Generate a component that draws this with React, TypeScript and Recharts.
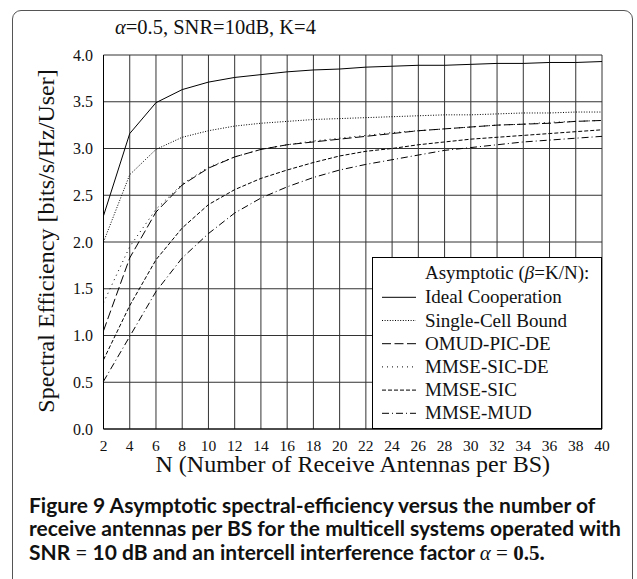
import React from 'react';
import { LineChart, Line, XAxis, YAxis, CartesianGrid, Legend, Label } from 'recharts';

const antennas = [2, 4, 6, 8, 10, 12, 14, 16, 18, 20, 22, 24, 26, 28, 30, 32, 34, 36, 38, 40];
const idealCooperation = [2.28, 3.16, 3.49, 3.63, 3.71, 3.76, 3.79, 3.82, 3.84, 3.85, 3.87, 3.88, 3.89, 3.89, 3.9, 3.91, 3.91, 3.92, 3.92, 3.93];
const singleCellBound = [2.0, 2.72, 2.99, 3.12, 3.19, 3.24, 3.27, 3.29, 3.31, 3.32, 3.33, 3.34, 3.35, 3.36, 3.36, 3.37, 3.38, 3.38, 3.39, 3.39];
const omudPicDe = [1.05, 1.83, 2.32, 2.61, 2.79, 2.91, 2.99, 3.04, 3.07, 3.1, 3.13, 3.16, 3.19, 3.21, 3.23, 3.25, 3.26, 3.27, 3.29, 3.3];
const mmseSicDe = [1.35, 1.95, 2.35, 2.62, 2.8, 2.91, 2.99, 3.04, 3.08, 3.11, 3.14, 3.17, 3.19, 3.21, 3.23, 3.25, 3.26, 3.28, 3.29, 3.3];
const mmseSic = [0.74, 1.32, 1.81, 2.15, 2.4, 2.56, 2.68, 2.77, 2.85, 2.92, 2.97, 3.0, 3.04, 3.07, 3.1, 3.12, 3.14, 3.16, 3.18, 3.2];
const mmseMud = [0.51, 0.99, 1.47, 1.83, 2.09, 2.31, 2.47, 2.59, 2.69, 2.77, 2.83, 2.88, 2.93, 2.98, 3.01, 3.04, 3.07, 3.09, 3.11, 3.13];
const yTicks = [0, 0.5, 1, 1.5, 2, 2.5, 3, 3.5, 4];
const seriesNames = ['Ideal Cooperation', 'Single-Cell Bound', 'OMUD-PIC-DE', 'MMSE-SIC-DE', 'MMSE-SIC', 'MMSE-MUD'];
const seriesKeys = ['ideal', 'single', 'omud', 'sicde', 'sic', 'mud'];
const seriesDash = [undefined, '1 1.6', '9 3.5', '1 4', '4 2', '7 3 1 3'];

const data = antennas.map((n, i) => ({
  n,
  ideal: idealCooperation[i],
  single: singleCellBound[i],
  omud: omudPicDe[i],
  sicde: mmseSicDe[i],
  sic: mmseSic[i],
  mud: mmseMud[i],
}));

const SERIF = '"Liberation Serif", "Times New Roman", serif';
const SANS = 'Lato, "Noto Sans", sans-serif';

function LegendBox() {
  return (
    <div style={{ width: 230, height: 172, boxSizing: 'border-box', border: '1px solid #000', background: '#fff' }}>
      <svg width={228} height={170} style={{ display: 'block' }}>
        <text x={52} y={21} fontFamily={SERIF} fontSize={19} fill="#111">
          Asymptotic (<tspan fontStyle="italic">β</tspan>=K/N):
        </text>
        {seriesNames.map((name, i) => {
          const y = 45.3 + i * 23.2;
          return (
            <g key={name}>
              <line x1={9} x2={43} y1={y - 6} y2={y - 6} stroke="#000" strokeWidth={1} strokeDasharray={seriesDash[i]} />
              <text x={52} y={y} fontFamily={SERIF} fontSize={19} fill="#111">{name}</text>
            </g>
          );
        })}
      </svg>
    </div>
  );
}

const YTitle = (props: any) => {
  const vb = props.viewBox || { x: 43.5, y: 55, width: 60, height: 374 };
  const x = vb.x + 10;
  const y = vb.y + vb.height / 2 - 1;
  return (
    <text x={x} y={y} transform={`rotate(-90, ${x}, ${y})`} textAnchor="middle" fontFamily={SERIF} fontSize={24} fill="#111">
      Spectral Efficiency [bits/s/Hz/User]
    </text>
  );
};

const XTitle = (props: any) => {
  const vb = props.viewBox || { x: 103.5, y: 429, width: 498, height: 50 };
  return (
    <text x={vb.x + vb.width / 2} y={vb.y + 42.5} textAnchor="middle" fontFamily={SERIF} fontSize={24} fill="#111">
      N (Number of Receive Antennas per BS)
    </text>
  );
};

export default function App() {
  return (
    <div style={{ position: 'absolute', left: 0, top: 0, width: 637, height: 579, background: '#fff', overflow: 'hidden' }}>
      <div style={{ position: 'absolute', left: 12, top: 10, width: 621, height: 620, border: '1px solid #555', borderRadius: 9, boxSizing: 'border-box' }} />
      <div style={{ position: 'absolute', left: 0, top: 0 }}>
        <LineChart width={637} height={480} data={data} margin={{ top: 55, right: 35, bottom: 1, left: 43.5 }}>
          <CartesianGrid stroke="#333" strokeWidth={1} />
          <XAxis
            dataKey="n"
            type="number"
            domain={[2, 40]}
            ticks={antennas}
            interval={0}
            height={50}
            axisLine={{ stroke: '#000' }}
            tickLine={false}
            tickSize={6}
            tickMargin={5}
            tick={{ fill: '#111', fontSize: 15.5, fontFamily: SERIF }}
          >
            <Label content={XTitle} />
          </XAxis>
          <YAxis
            type="number"
            domain={[0, 4]}
            ticks={yTicks}
            interval={0}
            width={60}
            tickFormatter={(v: number) => v.toFixed(1)}
            axisLine={{ stroke: '#000' }}
            tickLine={false}
            tickSize={6}
            tickMargin={4.5}
            tick={{ fill: '#111', fontSize: 16, fontFamily: SERIF }}
          >
            <Label content={YTitle} />
          </YAxis>
          <Legend
            layout="vertical"
            align="center"
            verticalAlign="middle"
            content={() => <LegendBox />}
            wrapperStyle={{ left: 372, top: 257, width: 230, height: 172 }}
          />
          {seriesKeys.map((k, i) => (
            <Line
              key={k}
              type="linear"
              dataKey={k}
              name={seriesNames[i]}
              stroke="#000"
              strokeWidth={1}
              strokeDasharray={seriesDash[i]}
              dot={false}
              activeDot={false}
              isAnimationActive={false}
            />
          ))}
        </LineChart>
      </div>
      <svg width={637} height={579} style={{ position: 'absolute', left: 0, top: 0, pointerEvents: 'none' }}>
        <text x={115} y={34} fontFamily={SERIF} fontSize={20.5} fill="#111">
          <tspan fontStyle="italic">α</tspan>=0.5, SNR=10dB, K=4
        </text>
        <g fontFamily={SANS} fontWeight="bold" fontSize={21} fill="#111">
          <text x={29} y={512.5}>Figure 9 Asymptotic spectral-efficiency versus the number of</text>
          <text x={29} y={536}>receive antennas per BS for the multicell systems operated with</text>
          <text x={29} y={559.5}>
            SNR <tspan fontWeight="normal">=</tspan> 10 dB and an intercell interference factor{' '}
            <tspan fontFamily={SERIF} fontStyle="italic" fontWeight="normal">α</tspan>
            <tspan fontFamily={SERIF} fontWeight="normal"> = </tspan>
            <tspan fontFamily={SERIF}>0.5.</tspan>
          </text>
        </g>
      </svg>
    </div>
  );
}
